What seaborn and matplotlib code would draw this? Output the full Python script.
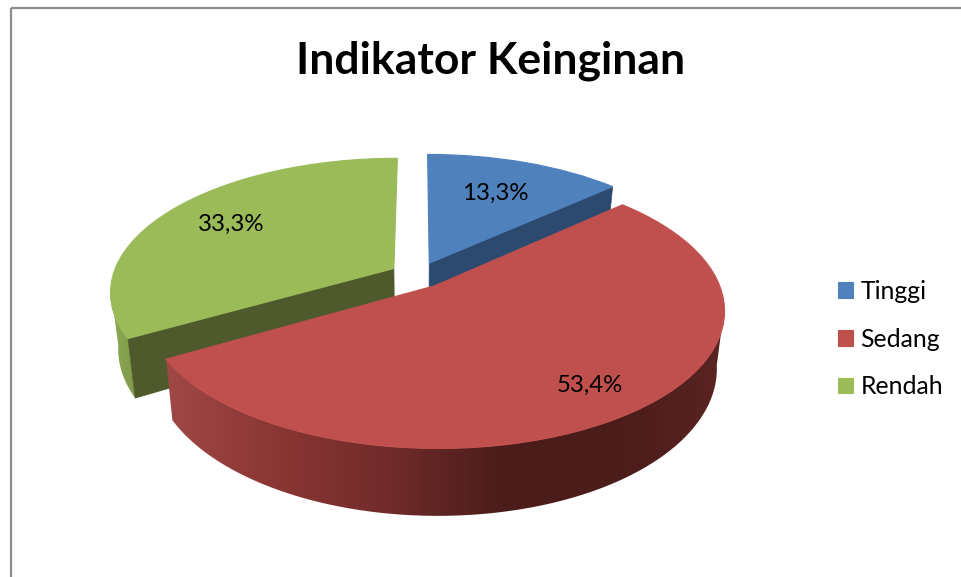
import numpy as np
import matplotlib
matplotlib.use("Agg")
import matplotlib.pyplot as plt
import seaborn as sns
from matplotlib.patches import Polygon
from matplotlib.transforms import Transform

# values
categories = ["Tinggi", "Sedang", "Rendah"]
percent = [13.3, 53.4, 33.3]

title = "Indikator Keinginan"
top_colors = ["#4f81bd", "#c0504d", "#9bbb59"]
cut_colors = ["#2c4a70", "#6e2c2a", "#4e5a2b"]
red_wall = ["#a04845", "#8a3634", "#702b2a", "#4b1d1b", "#4a1c1a", "#5a2422"]
green_wall = ["#8fab54", "#7f9a49"]
label_dist = [0.66, 0.81, 0.72]

# look of the tilted pie, in pixels
CX, CY = 418, 275
RX, RY = 281, 131
TILT = 0.17
DEPTH = 55
SHRINK = 0.025


def project(x, y, z=0.0):
    d = 1 + TILT * y
    sx = CX + RX * x / d * (1 - SHRINK * z)
    sy = CY - RY * y / d + DEPTH * z / d
    return sx, sy


class TiltTransform(Transform):
    input_dims = output_dims = 2
    is_affine = False

    def transform_non_affine(self, values):
        sx, sy = project(values[:, 0], values[:, 1])
        return np.column_stack([sx, sy])


def rim(wedge, theta):
    t = np.radians(theta)
    return wedge.center[0] + np.cos(t), wedge.center[1] + np.sin(t)


def draw_radial_wall(ax, wedge, theta, color, zorder):
    x, y = rim(wedge, theta)
    cx, cy = wedge.center
    p = [project(cx, cy), project(x, y), project(x, y, 1), project(cx, cy, 1)]
    ax.fill(*zip(*p), color=color, lw=0.5, zorder=zorder)


def draw_outer_wall(ax, wedge, stops, zorder):
    # only the side facing the viewer, filled with a left to right gradient
    # going further round the back would make the outline cross itself
    thetas = np.linspace(wedge.theta1, wedge.theta2, 361)
    thetas = thetas[np.sin(np.radians(thetas)) < -0.15]
    x, y = rim(wedge, thetas)
    top = np.column_stack(project(x, y))
    bottom = np.column_stack(project(x, y, 1))
    outline = np.vstack([top, bottom[::-1]])
    colors = np.array(sns.blend_palette(stops, 256))[None, :, :3]
    im = ax.imshow(
        colors,
        extent=[outline[:, 0].min(), outline[:, 0].max(), outline[:, 1].max(), outline[:, 1].min()],
        aspect="auto",
        interpolation="bilinear",
        zorder=zorder,
    )
    im.set_clip_path(Polygon(outline, transform=ax.transData))


sns.set_theme(style="white")
plt.rcParams["font.family"] = ["Lato", "DejaVu Sans"]

fig, ax = plt.subplots(figsize=(9.61, 5.77), dpi=100)
fig.subplots_adjust(0, 0, 1, 1)

tilt = TiltTransform() + ax.transData
wedges, _ = ax.pie(
    percent,
    colors=top_colors,
    startangle=90,
    counterclock=False,
    explode=[0.1, 0.1, 0.1],
    radius=1,
    wedgeprops={"transform": tilt, "lw": 0},
)
ax.set_frame_on(False)

blue, red, green = wedges
for w, c in zip(wedges, top_colors):
    w.set_edgecolor(c)
    w.set_linewidth(0.8)

# walls first, back to front, then the tops
draw_outer_wall(ax, green, green_wall, 1)
draw_radial_wall(ax, green, green.theta2, cut_colors[2], 2)
draw_radial_wall(ax, blue, blue.theta1, cut_colors[0], 2)
blue.set_zorder(3)
green.set_zorder(3)
draw_outer_wall(ax, red, red_wall, 4)
red.set_zorder(5)

# imshow and pie both touch the limits, so set them last
ax.set_aspect("auto")
ax.set_xlim(0, 961)
ax.set_ylim(577, 0)

for w, p, dist in zip(wedges, percent, label_dist):
    mid = np.radians((w.theta1 + w.theta2) / 2)
    sx, sy = project(w.center[0] + dist * np.cos(mid), w.center[1] + dist * np.sin(mid))
    ax.text(sx, sy, f"{p:.1f}%".replace(".", ","), ha="center", va="center",
            fontsize=17.3, color="black", zorder=6)

ax.text(491, 61, title, ha="center", va="center", fontsize=32, fontweight="bold", color="black")

leg = ax.legend(
    wedges, categories,
    loc="center left",
    bbox_to_anchor=(838, 339),
    bbox_transform=ax.transData,
    frameon=False,
    fontsize=17.8,
    handlelength=0.61,
    handleheight=0.61,
    handletextpad=0.3,
    labelspacing=1.0,
    borderpad=0,
    borderaxespad=0,
)
for t in leg.get_texts():
    t.set_color("black")

# chart frame, cut off by the image on the right and bottom
ax.plot([11, 11], [577, 8], color="#8c8c8c", lw=1.6, solid_capstyle="butt")
ax.plot([11, 961], [8, 8], color="#8c8c8c", lw=1.6, solid_capstyle="butt")

fig.savefig("out.png", dpi=100)
